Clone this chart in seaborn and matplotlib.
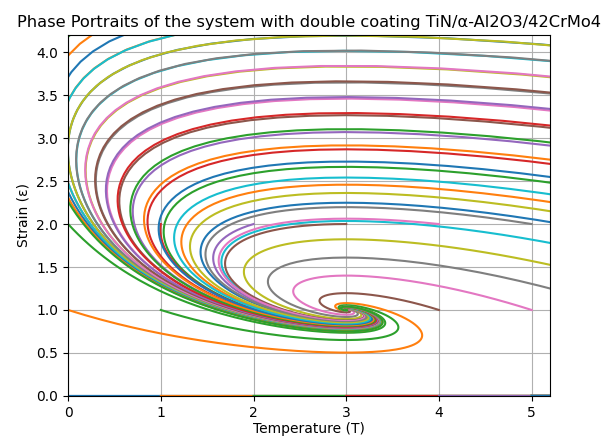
import numpy as np
import pandas as pd
import matplotlib
matplotlib.use("Agg")
import matplotlib.pyplot as plt
import seaborn as sns

# initial conditions (grid of starting states)
T0_values = list(range(0, 21))
eps0_values = [0, 1, 2]

# model parameters
T_ambient = 5.0      # equilibrium temperature without strain
T_crit = 3.0         # critical temperature for strain growth
heat_rate = 2.16     # relaxation towards ambient
strain_load = 1.32   # strain heat-sink offset
strain_rate = 1.08
t_end = 20.0
n_steps = 4000
keep_every = 2

title = "Phase Portraits of the system with double coating TiN/α-Al2O3/42CrMo4"
x_label = "Temperature (T)"
y_label = "Strain (ε)"


def rhs(T, e):
    dT = heat_rate * (T_ambient - T) - e ** 2 * (strain_load + T)
    de = strain_rate * e * (T - T_crit)
    return dT, de


def integrate(T0, e0):
    dt = t_end / n_steps
    T = np.array(T0, dtype=float)
    e = np.array(e0, dtype=float)
    Ts = [T.copy()]
    Es = [e.copy()]
    for k in range(n_steps):
        k1T, k1e = rhs(T, e)
        k2T, k2e = rhs(T + 0.5 * dt * k1T, e + 0.5 * dt * k1e)
        k3T, k3e = rhs(T + 0.5 * dt * k2T, e + 0.5 * dt * k2e)
        k4T, k4e = rhs(T + dt * k3T, e + dt * k3e)
        T = T + dt / 6 * (k1T + 2 * k2T + 2 * k3T + k4T)
        e = e + dt / 6 * (k1e + 2 * k2e + 2 * k3e + k4e)
        if (k + 1) % keep_every == 0:
            Ts.append(T.copy())
            Es.append(e.copy())
    return np.array(Ts), np.array(Es)


starts = [(T0, e0) for e0 in eps0_values for T0 in T0_values]
T_init = [s[0] for s in starts]
e_init = [s[1] for s in starts]
Tpath, Epath = integrate(T_init, e_init)

colors = sns.color_palette("tab10", 10)

fig, ax = plt.subplots(figsize=(6.08, 4.37), dpi=100)
for i in range(len(starts)):
    df = pd.DataFrame({"T": Tpath[:, i], "eps": Epath[:, i]})
    sns.lineplot(data=df, x="T", y="eps", sort=False, estimator=None,
                 color=colors[i % 10], linewidth=1.5, ax=ax)

ax.set_xlim(0, 5.2)
ax.set_ylim(0, 4.2)
ax.set_title(title, fontsize=11.7)
ax.set_xlabel(x_label, labelpad=2)
ax.set_ylabel(y_label)
ax.grid(True)
fig.subplots_adjust(left=0.112, right=0.905, top=0.92, bottom=0.094)
fig.savefig("out.png", dpi=100)
